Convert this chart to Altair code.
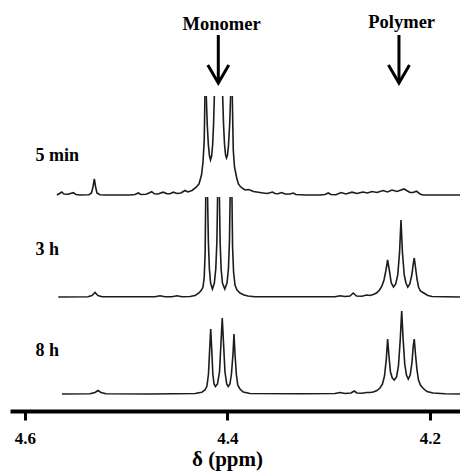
import altair as alt
import pandas as pd

# ---------------- spectra: chemical shift (ppm) and intensity (a.u.) ----------------
# 8 h
PPM_8H = [4.5634, 4.5358, 4.5308, 4.5279, 4.5249, 4.5200, 4.4765, 4.4320, 4.4254, 4.4222,
          4.4202, 4.4187, 4.4175, 4.4165, 4.4155, 4.4144, 4.4132, 4.4118, 4.4098, 4.4078,
          4.4064, 4.4051, 4.4038, 4.4024, 4.4007, 4.3992, 4.3975, 4.3960, 4.3945, 4.3935,
          4.3925, 4.3912, 4.3898, 4.3876, 4.3843, 4.3777, 4.3283, 4.2937, 4.2888, 4.2838,
          4.2779, 4.2747, 4.2720, 4.2671, 4.2624, 4.2591, 4.2559, 4.2522, 4.2493, 4.2468,
          4.2448, 4.2430, 4.2417, 4.2404, 4.2389, 4.2371, 4.2351, 4.2329, 4.2310, 4.2292,
          4.2278, 4.2264, 4.2248, 4.2231, 4.2213, 4.2194, 4.2176, 4.2164, 4.2154, 4.2142,
          4.2127, 4.2112, 4.2093, 4.2065, 4.2028, 4.1969, 4.1850, 4.1702]
INT_8H = [0, 0.3, 1.5, 3.5, 1.5, 0.2, 0, 0.5, 1.7, 4,
          8, 20, 45, 65, 45, 20, 10, 7.5, 10, 22,
          50, 76, 50, 22, 10, 7.5, 10, 20, 40, 60,
          40, 20, 9, 5, 2, 0.5, 0.2, 0.5, 1.5, 0.5,
          1, 3, 1, 0.8, 1.5, 1.5, 2, 3.5, 6, 10,
          18, 35, 55, 38, 22, 16, 14, 17, 28, 55,
          83, 55, 30, 19, 15, 19, 32, 48, 55, 40,
          24, 14, 9, 5.5, 2.5, 1, 0.3, 0]

# 3 h (monomer lines run off the top: four pieces)
PPM_3H_A = [4.5671, 4.5378, 4.5338, 4.5308, 4.5279, 4.5239, 4.4716, 4.4666, 4.4617, 4.4548,
            4.4498, 4.4449, 4.4370, 4.4320, 4.4281, 4.4256, 4.4241, 4.4229, 4.4220, 4.4214]
INT_3H_A = [0, 0.3, 1.5, 4.5, 1.5, 0.3, 0.3, 1.3, 0.3, 0.3,
            1.3, 0.3, 0.5, 1.5, 4, 7, 10, 20, 45, 100]
PPM_3H_B = [4.4196, 4.4188, 4.4178, 4.4166, 4.4148, 4.4129, 4.4115, 4.4104, 4.4097]
INT_3H_B = [100, 55, 28, 14, 8, 14, 28, 55, 100]
PPM_3H_C = [4.4079, 4.4072, 4.4062, 4.4049, 4.4026, 4.4004, 4.3990, 4.3980, 4.3973]
INT_3H_C = [100, 55, 28, 14, 8, 14, 28, 55, 100]
PPM_3H_D = [4.3955, 4.3949, 4.3939, 4.3925, 4.3905, 4.3876, 4.3836, 4.3797, 4.3728, 4.3283,
            4.2937, 4.2888, 4.2838, 4.2789, 4.2757, 4.2725, 4.2671, 4.2624, 4.2591, 4.2559,
            4.2527, 4.2497, 4.2473, 4.2453, 4.2435, 4.2417, 4.2399, 4.2381, 4.2359, 4.2337,
            4.2317, 4.2299, 4.2285, 4.2271, 4.2253, 4.2236, 4.2218, 4.2198, 4.2178, 4.2164,
            4.2154, 4.2142, 4.2127, 4.2112, 4.2093, 4.2068, 4.2043, 4.2019, 4.1979, 4.1850,
            4.1702]
INT_3H_D = [100, 50, 25, 12, 7, 4, 2, 1, 0.3, 0.2,
            0.3, 1.3, 0.5, 1, 4, 1, 0.8, 2, 1.5, 2.5,
            4, 7, 11, 17, 26, 37, 26, 14, 10, 13,
            22, 45, 77, 45, 22, 14, 10, 13, 22, 33,
            39, 30, 18, 10, 6, 4.5, 3, 1.5, 0.5, 0.2,
            0]

# 5 min (monomer lines run off the top: four pieces)
PPM_5M_A = [4.5684, 4.5659, 4.5637, 4.5615, 4.5575, 4.5550, 4.5523, 4.5496, 4.5457, 4.5368,
            4.5343, 4.5328, 4.5315, 4.5302, 4.5289, 4.5259, 4.5210, 4.4963, 4.4913, 4.4881,
            4.4854, 4.4804, 4.4775, 4.4748, 4.4721, 4.4686, 4.4634, 4.4597, 4.4567, 4.4535,
            4.4498, 4.4459, 4.4419, 4.4390, 4.4350, 4.4311, 4.4281, 4.4256, 4.4241, 4.4229,
            4.4222]
INT_5M_A = [0, 1.5, 3, 1, 0.8, 1.5, 2.3, 0.5, 0, 0.3,
            2, 8, 16, 8, 2, 0.3, 0, 0, 0.5, 2,
            0.5, 0.8, 2, 3.3, 1.2, 1, 2.8, 1.2, 1.3, 2.8,
            1.5, 2, 4.5, 3, 4.5, 7.5, 11, 20, 33, 55,
            99]
PPM_5M_B = [4.4209, 4.4199, 4.4188, 4.4177, 4.4167, 4.4156, 4.4146, 4.4137, 4.4129]
INT_5M_B = [99, 70, 50, 39, 35, 39, 50, 70, 99]
PPM_5M_C = [4.4047, 4.4038, 4.4028, 4.4018, 4.4009, 4.3999, 4.3989, 4.3978, 4.3968]
INT_5M_C = [99, 70, 50, 40, 37, 40, 50, 70, 99]
PPM_5M_D = [4.3952, 4.3942, 4.3930, 4.3908, 4.3891, 4.3876, 4.3856, 4.3826, 4.3797, 4.3777,
            4.3743, 4.3711, 4.3679, 4.3646, 4.3609, 4.3579, 4.3555, 4.3530, 4.3501, 4.3464,
            4.3431, 4.3382, 4.3349, 4.3323, 4.3234, 4.3085, 4.3036, 4.3004, 4.2977, 4.2927,
            4.2878, 4.2829, 4.2769, 4.2720, 4.2661, 4.2616, 4.2572, 4.2522, 4.2463, 4.2418,
            4.2374, 4.2325, 4.2255, 4.2196, 4.2167, 4.2132, 4.2097, 4.2068, 4.1702]
INT_5M_D = [99, 45, 28, 17, 11, 9, 7, 5, 5.5, 5,
            3.5, 3, 2.5, 2, 1.5, 2.2, 3, 1.5, 1.2, 2.5,
            1, 1, 2, 0.5, 0, 0, 0.5, 2, 0.5, 0.3,
            2.5, 1, 2.8, 1.5, 3, 2, 3.5, 2.5, 4.5, 3,
            5, 3.5, 6, 2.5, 2.5, 3.8, 1, 0, 0]

TRACE_NAMES = ["5 min", "3 h", "8 h"]
TRACE_OFFSETS = [216, 114, 17]          # vertical stacking of the spectra (a.u.)
LABEL_PPM = 4.5895
LABEL_Y = [255, 161, 60]

HEADERS = ["Monomer", "Polymer"]
HEADER_PPM = [4.4057, 4.2278]
HEADER_Y = [381, 383.5]
ARROW_PPM = [4.4090, 4.2305]
ARROW_TOP = 376
ARROW_TIP = 328
ARROW_HEAD_Y = 337

TICKS = [4.6, 4.4, 4.2]
X_DOMAIN = [4.6148, 4.1702]
Y_DOMAIN = [0, 411]

segments = {
    "5 min": [(PPM_5M_A, INT_5M_A), (PPM_5M_B, INT_5M_B), (PPM_5M_C, INT_5M_C), (PPM_5M_D, INT_5M_D)],
    "3 h": [(PPM_3H_A, INT_3H_A), (PPM_3H_B, INT_3H_B), (PPM_3H_C, INT_3H_C), (PPM_3H_D, INT_3H_D)],
    "8 h": [(PPM_8H, INT_8H)],
}

rows = []
for name, off in zip(TRACE_NAMES, TRACE_OFFSETS):
    for k, (xs, ys) in enumerate(segments[name]):
        if len(xs) != len(ys):
            raise ValueError(f"length mismatch in {name} segment {k}: {len(xs)} vs {len(ys)}")
        for i, (p, v) in enumerate(zip(xs, ys)):
            rows.append({"key": f"{name}-{k}", "ppm": p, "y": off + v, "idx": i})
spec_df = pd.DataFrame(rows)

FONT = "'Liberation Serif', 'Times New Roman', 'DejaVu Serif', serif"
xscale = alt.Scale(domain=X_DOMAIN, nice=False, zero=False)
yscale = alt.Scale(domain=Y_DOMAIN, nice=False, zero=False)

x_axis = alt.Axis(
    values=TICKS, format=".1f", title="δ (ppm)", grid=False,
    domainColor="black", domainWidth=4, tickColor="black", tickWidth=3, tickSize=9,
    labelFont=FONT, labelFontWeight="bold", labelFontSize=17, labelColor="black",
    labelPadding=10, labelFlush=False, labelOverlap=False,
    titleFont=FONT, titleFontWeight="bold", titleFontSize=21, titleColor="black",
    titleX=217, titleY=54, titleAlign="center", titleBaseline="alphabetic",
)

lines = alt.Chart(spec_df).mark_line(color="#1c1c1c", strokeWidth=1.6).encode(
    x=alt.X("ppm:Q", scale=xscale, axis=x_axis),
    y=alt.Y("y:Q", scale=yscale, axis=None),
    detail="key:N",
    order="idx:Q",
)

lab_df = pd.DataFrame({"label": TRACE_NAMES, "ppm": [LABEL_PPM] * 3, "y": LABEL_Y})
labels = alt.Chart(lab_df).mark_text(
    align="left", baseline="middle", font=FONT, fontWeight="bold", fontSize=18, color="black"
).encode(x=alt.X("ppm:Q", scale=xscale), y=alt.Y("y:Q", scale=yscale), text="label:N")

head_df = pd.DataFrame({"label": HEADERS, "ppm": HEADER_PPM, "y": HEADER_Y})
headers = alt.Chart(head_df).mark_text(
    align="center", baseline="alphabetic", font=FONT, fontWeight="bold", fontSize=18.5, color="black"
).encode(x=alt.X("ppm:Q", scale=xscale), y=alt.Y("y:Q", scale=yscale), text="label:N")

arr_df = pd.DataFrame({"ppm": ARROW_PPM, "top": [ARROW_TOP] * 2, "tip": [ARROW_TIP] * 2,
                       "head": [ARROW_HEAD_Y] * 2})
shafts = alt.Chart(arr_df).mark_rule(color="black", strokeWidth=3).encode(
    x=alt.X("ppm:Q", scale=xscale), y=alt.Y("top:Q", scale=yscale), y2="tip:Q"
)
heads = alt.Chart(arr_df).mark_point(
    shape="M-1,-0.85L0,0.85L1,-0.85", size=441, filled=False, color="black",
    strokeWidth=3, opacity=1, strokeJoin="miter",
).encode(x=alt.X("ppm:Q", scale=xscale), y=alt.Y("head:Q", scale=yscale))

chart = alt.layer(lines, labels, headers, shafts, heads).properties(
    width=450, height=411,
    padding={"left": 10, "top": 0, "right": 0, "bottom": 61},
    autosize=alt.AutoSizeParams(type="none"),
    background="white",
).configure_view(stroke=None)

chart.save("out.html", embed_options={"renderer": "svg", "actions": False})
